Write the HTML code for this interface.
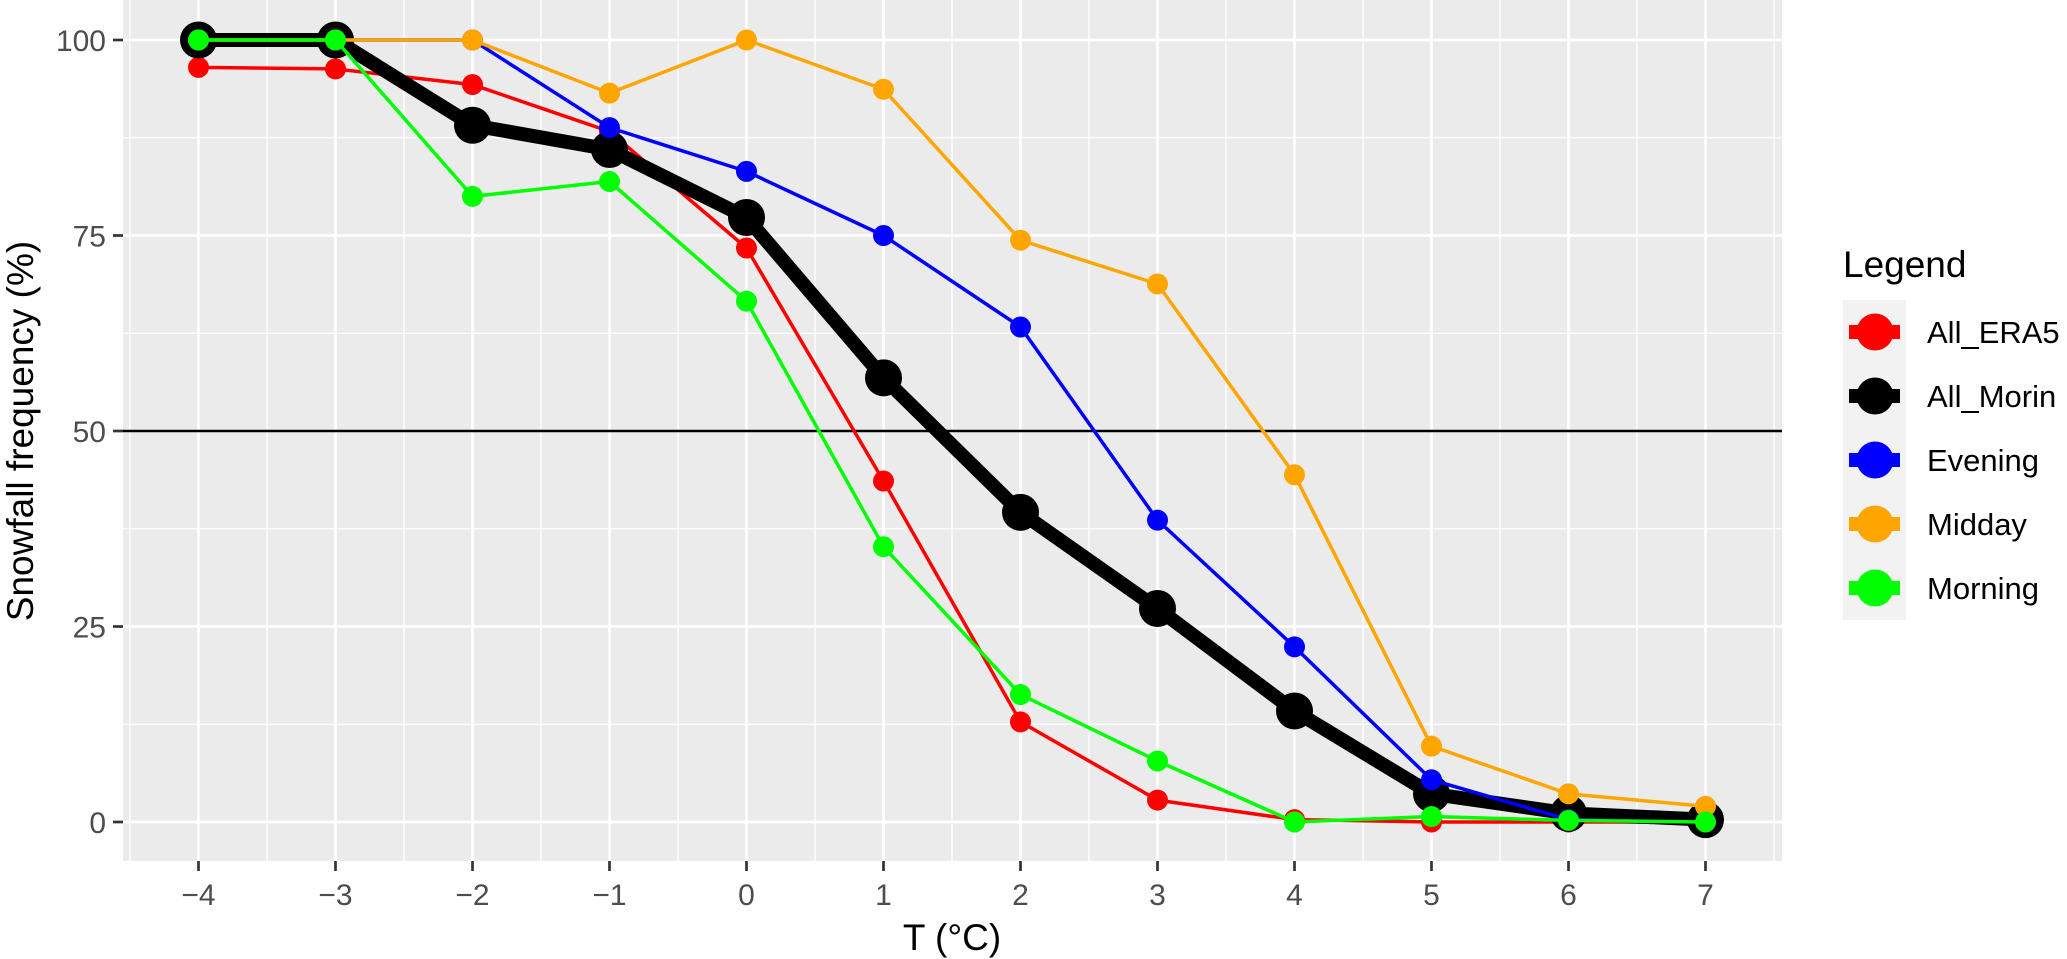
<!DOCTYPE html>
<html><head><meta charset="utf-8"><style>
body{margin:0;background:#fff}
svg{display:block;font-family:"Liberation Sans",Arial,sans-serif}
</style></head><body>
<svg id="chart" width="2067" height="959">
<rect x="123" y="0" width="1659" height="861" fill="#ebebeb"/>
<g id="grid"></g><g id="axes"></g><g id="series"></g>
<text x="33" y="431" transform="rotate(-90 33 431)" text-anchor="middle" font-size="37" fill="#000">Snowfall frequency (%)</text>
<text x="952" y="950" text-anchor="middle" font-size="37" fill="#000">T (°C)</text>
<g id="legend"></g>
</svg>
<script>
const temps=[-4,-3,-2,-1,0,1,2,3,4,5,6,7];
const seriesNames=["All_ERA5","All_Morin","Evening","Midday","Morning"];
const era5=[96.5,96.3,94.3,88.3,73.4,43.6,12.8,2.8,0.3,0,0,0];
const morin=[100,100,89.1,86,77.3,56.8,39.6,27.3,14.2,3.6,1.1,0.3];
const evening=[100,100,100,88.8,83.2,75,63.3,38.6,22.4,5.4,0.3,0];
const midday=[100,100,100,93.2,100,93.7,74.4,68.8,44.4,9.7,3.6,2.0];
const morning=[100,100,80,81.9,66.6,35.2,16.3,7.8,0,0.7,0.2,0];
const yTicks=[0,25,50,75,100];
const refLine=[50];
const NS="http://www.w3.org/2000/svg";
const X0=123,X1=1782,Y0=0,Y1=861;
const xs=v=>198.5+(v+4)*137;
const ys=v=>822-v*7.82;
function mk(t,a,p){const e=document.createElementNS(NS,t);for(const k in a)e.setAttribute(k,a[k]);p.appendChild(e);return e;}
const grid=document.getElementById('grid'),axes=document.getElementById('axes'),ser=document.getElementById('series'),leg=document.getElementById('legend');
for(let v=-4.5;v<=7.5;v+=1){const l=mk('line',{x1:xs(v),x2:xs(v),y1:Y0,y2:Y1,stroke:'#fff','stroke-width':1.3},grid);

}
for(let v=-12.5;v<=112.5;v+=25){const y=ys(v);if(y<Y0||y>Y1)continue;const l=mk('line',{x1:X0,x2:X1,y1:y,y2:y,stroke:'#fff','stroke-width':1.3},grid);

}
temps.forEach(t=>{const l=mk('line',{x1:xs(t),x2:xs(t),y1:Y0,y2:Y1,stroke:'#fff','stroke-width':2.7},grid);


const tk=mk('line',{x1:xs(t),x2:xs(t),y1:Y1,y2:Y1+10,stroke:'#333','stroke-width':2.7},axes);


const tx=mk('text',{x:xs(t),y:Y1+44,'text-anchor':'middle','font-size':30,fill:'#4d4d4d'},axes);tx.textContent=t<0?'\u2212'+(-t):String(t);

});
yTicks.forEach(v=>{const l=mk('line',{x1:X0,x2:X1,y1:ys(v),y2:ys(v),stroke:'#fff','stroke-width':2.7},grid);


const tk=mk('line',{x1:X0-10,x2:X0,y1:ys(v),y2:ys(v),stroke:'#333','stroke-width':2.7},axes);


const tx=mk('text',{x:X0-17,y:ys(v)+11,'text-anchor':'end','font-size':30,fill:'#4d4d4d'},axes);tx.textContent=v;

});
refLine.forEach(v=>{const l=mk('line',{x1:X0,x2:X1,y1:ys(v),y2:ys(v),stroke:'#000','stroke-width':2.5},grid);

});
const data=[era5,morin,evening,midday,morning];
const colors=['#ff0000','#000000','#0000ff','#ffa500','#00ff00'];
const lw=[3.5,14,3.5,3.5,3.5], pr=[10.5,18.5,10.5,10.5,10.5];
data.forEach((d,i)=>{const g=mk('g',{},ser);


const p=mk('polyline',{points:d.map((v,j)=>xs(temps[j])+','+ys(v)).join(' '),fill:'none',stroke:colors[i],'stroke-width':lw[i],'stroke-linejoin':'round'},g);


d.forEach((v,j)=>{const c=mk('circle',{cx:xs(temps[j]),cy:ys(v),r:pr[i],fill:colors[i]},g);

});});
const lt=mk('text',{x:1843,y:277,'font-size':37,fill:'#000'},leg);lt.textContent='Legend';


mk('rect',{x:1843,y:300,width:63,height:320,fill:'#f2f2f2'},leg);
seriesNames.forEach((n,i)=>{const cy=332+i*64;const g=mk('g',{},leg);


mk('line',{x1:1849,x2:1900,y1:cy,y2:cy,stroke:colors[i],'stroke-width':14},g);
mk('circle',{cx:1875,cy:cy,r:18.5,fill:colors[i]},g);
const t=mk('text',{x:1927,y:cy+11,'font-size':31,fill:'#000'},g);t.textContent=n;});
</script>
</body></html>
